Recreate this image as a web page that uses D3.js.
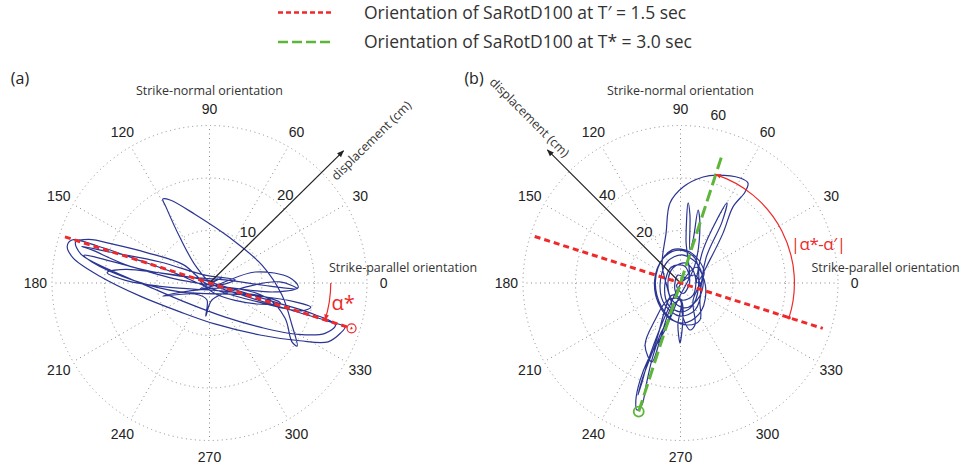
<!DOCTYPE html>
<html>
<head>
<meta charset="utf-8">
<script src="https://cdn.jsdelivr.net/npm/d3@7"></script>
<style>
	body { margin: 0; background: #fff; }
	svg { display: block; }
	.tick-label { font-family: "Liberation Sans", Arial, sans-serif; font-size: 14px; fill: #222; }
	.note { font-family: "Open Sans", sans-serif; font-size: 12.5px; fill: #333; }
	.legend-text { font-family: "Open Sans", sans-serif; font-size: 17.5px; fill: #333; }
	.panel-name { font-family: "Open Sans", sans-serif; font-size: 16px; fill: #222; }
	.alpha { font-family: "Open Sans", sans-serif; font-size: 20px; fill: #ee2a2a; }
</style>
</head>
<body>
<svg id="chart" width="964" height="469"></svg>
<script>
// angle ticks (deg) and ring values (cm)
const angleTicks = [0, 30, 60, 90, 120, 150, 180, 210, 240, 270, 300, 330];
const ringsA = [10, 20, 30];
const ringsB = [20, 40, 60];
const ringLabelsA = [10, 20];
const ringLabelsB = [20, 40];

// orientations (deg)
const alphaPrime = -17.7;   // SaRotD100 at T' = 1.5 sec
const alphaStar = 72;       // SaRotD100 at T* = 3.0 sec

// red / green dashed line half-lengths (cm), [positive side, negative side]
const redLineA = [28.4, 28.9];
const redLineB = [56.9, 58.3];
const greenLineB = [51.7, 51.5];

// displacement trace, panel (a), x/y in cm
const traceA = [
	[0, 0], [2.4, 1.0], [-1.8, -1.1], [1.2, -0.4], [8.7, 2.1], [15.3, 1.0], [16.9, -0.8], [12.5, -1.7],
	[4.9, -1.0], [-6.6, 0.8], [-14.2, 2.9], [-21.2, 4.8], [-23.9, 5.3], [-22.4, 4.0], [-14.2, 0.4],
	[-5.6, -1.7], [7.7, -2.3], [16.3, -3.6], [19.3, -4.6], [17.6, -5.3], [10.0, -3.8], [0.5, -1.1],
	[-6.6, 1.9], [-14.2, 4.6], [-21.2, 7.0], [-26.2, 8.2], [-27.1, 7.0], [-26.0, 4.8], [-20.9, 1.3],
	[-13.2, -2.5], [-5.6, -5.5], [1.0, -7.8], [9.6, -9.9], [17.2, -11.0], [22.6, -11.2], [25.0, -9.5],
	[25.8, -8.4], [23.0, -7.4], [15.3, -5.1], [6.8, -2.5], [0.5, -0.2], [-2.6, 3.2], [-5.6, 8.6],
	[-8.3, 14.5], [-8.9, 16.0], [-7.5, 15.8], [-2.8, 13.1], [3.9, 8.6], [10.0, 3.4], [13.8, -2.3],
	[15.7, -8.0], [16.7, -12.0], [15.7, -11.2], [14.4, -6.7], [11.1, -2.9], [4.3, -1.0], [-3.7, -1.5],
	[-8.9, -2.5], [-2.8, -2.1], [-0.5, -3.2], [-0.7, -6.3], [0.5, -3.2], [6.8, -0.8], [13.4, 0.2],
	[16.7, -1.1], [11.5, -0.6], [3.0, 0.6], [-5.6, 1.3], [-15.1, 3.2], [-22.4, 6.3], [-24.3, 7.0],
	[-19.0, 5.9], [-9.4, 4.0], [-0.9, 1.5], [4.9, 0.6], [0, -0.4], [-5.0, 3.5], [-12.0, 5.8],
	[-18.0, 7.3], [-23.0, 8.3], [-25.5, 7.8], [-24.5, 5.5], [-19.0, 2.5], [-12.0, -0.5], [-5.0, -3.5],
	[3.0, -6.5], [10.0, -8.5], [17.0, -9.8], [22.0, -9.6], [24.0, -8.0], [20.0, -6.0], [12.0, -3.5],
	[4.0, -1.0], [-3.0, 1.0], [-10.0, 2.0], [-16.0, 2.6], [-19.5, 2.0], [-16.0, 0.5], [-8.0, -0.8],
	[2.0, -1.5], [10.0, -2.5], [13.5, -3.8], [9.0, -4.0], [1.0, -2.0], [-1.8, 0.6], [1.0, 0.2]
];

// displacement trace, panel (b), x/y in cm
const traceB = [
	[0, 0], [5.5, 3.0], [7.8, -2.7], [5.5, -10.3], [-0.2, -12.6], [-5.9, -8.4], [-7.8, -0.8], [-5.1, 8.0],
	[0.6, 10.7], [6.7, 6.9], [8.6, -0.8], [6.3, -6.5], [1.7, -9.5], [-3.2, -6.5], [-4.8, 0], [-2.9, 5.7],
	[2.1, 7.6], [5.5, 3.0], [4.8, -4.6], [0.6, -6.5], [-2.1, -2.7], [-1.0, 3.0], [2.9, 1.9], [2.1, 16.4],
	[2.9, 30.5], [3.6, 25.9], [3.6, 12.6], [4.8, 16.4], [6.7, 27.8], [7.4, 22.1], [5.5, 6.9], [-1.0, -6.5],
	[-5.9, -17.9], [-12.4, -29.3], [-15.4, -37.0], [-17.0, -44.6], [-16.6, -48.4], [-14.7, -46.5],
	[-13.1, -38.9], [-10.9, -29.3], [-7.8, -19.8], [-3.2, -10.3], [-4.8, -2.7], [-7.0, 6.9], [-5.5, 19.0],
	[-4.0, 30.5], [1.0, 36.6], [8.6, 40.4], [13.9, 41.1], [22.7, 40.0], [25.7, 38.1], [24.6, 34.7],
	[20.0, 29.0], [16.2, 19.0], [11.2, 8.8], [6.3, 0], [8.6, 12.6], [17.7, 30.5], [15.8, 23.2], [9.7, 9.5],
	[7.4, -6.5], [7.4, -14.1], [2.9, -16.0], [-4.0, -13.3], [-9.0, -4.6], [-8.6, 5.7], [-3.2, 12.6],
	[3.6, 11.8], [9.0, 4.2], [4.8, -6.5], [5.5, -16.0], [3.6, -17.9], [1.0, -13.3], [-0.2, -6.5],
	[-4.0, -10.3], [-7.8, -21.7], [-10.9, -30.1], [-13.5, -23.6], [-9.7, -14.1], [-4.8, -6.5], [0.2, -6.5],
	[-0.2, -22.9], [-1.0, -16.0], [0.2, -6.5], [-3.2, -4.6], [-9.7, -23.6], [-14.7, -37.0], [-16.2, -42.7],
	[-15.0, -38.9], [-11.6, -27.4], [-4.0, -8.4], [-0.2, -0.8], [6.0, 6.0], [9.5, -1.0], [8.0, -10.5],
	[2.5, -15.0], [-3.5, -14.0], [-8.5, -7.5], [-9.8, 1.5], [-6.5, 9.5], [-0.5, 12.5], [5.5, 9.5],
	[7.0, 2.0], [5.0, -8.0], [0.5, -11.0], [-4.5, -8.5], [-6.0, -1.0], [-3.5, 6.0], [1.5, 6.5], [3.5, 0.5],
	[1.0, -4.0], [-1.5, -1.0], [0.5, 1.0]
];

const legendLabels = ['Orientation of SaRotD100 at T\u2032 = 1.5 sec', 'Orientation of SaRotD100 at T* = 3.0 sec'];

const RED = '#ee2a2a';
const GREEN = '#5db53a';
const BLUE = '#2b3592';

const Chart = {
	radius: 157.5,
	cy: 283,

	draw: function() {
		const self = this;
		let svg = d3.select('#chart');

		self.addDefs(svg);
		self.drawLegend(svg);

		self.drawPanel(svg, {
			name: '(a)', nameX: 20, cx: 209.5, rMax: 30, rings: ringsA, ringLabels: ringLabelsA,
			trace: traceA, arrowAngle: 44.6, textStart: 162, textOffset: 16.5, textReverse: false,
			parallelX: 119.5
		});
		self.drawPanel(svg, {
			name: '(b)', nameX: 474, cx: 680.5, rMax: 60, rings: ringsB, ringLabels: ringLabelsB,
			trace: traceB, arrowAngle: 135, textStart: 277, textOffset: 6, textReverse: true,
			parallelX: 131
		});
	},

	addDefs: function(svg) {
		let defs = svg.append('defs');

		defs.append('marker')
			.attr('id', 'arrow-black')
			.attr('viewBox', '0 0 10 10')
			.attr('refX', 9).attr('refY', 5)
			.attr('markerWidth', 7).attr('markerHeight', 7)
			.attr('markerUnits', 'userSpaceOnUse')
			.attr('orient', 'auto')
			.append('path')
			.attr('d', 'M0,1 L10,5 L0,9 Z')
			.style('fill', '#222');

		defs.append('marker')
			.attr('id', 'arrow-red')
			.attr('viewBox', '0 0 10 10')
			.attr('refX', 9).attr('refY', 5)
			.attr('markerWidth', 6).attr('markerHeight', 6)
			.attr('markerUnits', 'userSpaceOnUse')
			.attr('orient', 'auto-start-reverse')
			.append('path')
			.attr('d', 'M0,1 L10,5 L0,9 Z')
			.style('fill', RED);
	},

	drawLegend: function(svg) {
		let styles = [
			{ color: RED, dash: '5,3', y: 12.5 },
			{ color: GREEN, dash: '10,4', y: 42 }
		];

		styles.forEach(function(s, i) {
			svg.append('line')
				.attr('x1', 278).attr('x2', 332)
				.attr('y1', s.y).attr('y2', s.y)
				.style('stroke', s.color)
				.style('stroke-width', 2.5)
				.style('stroke-dasharray', s.dash);

			svg.append('text')
				.attr('class', 'legend-text')
				.attr('x', 364)
				.attr('y', s.y + 6)
				.text(legendLabels[i]);
		});
	},

	drawPanel: function(svg, p) {
		const self = this;
		let R = self.radius;
		let cy = self.cy;
		let g = svg.append('g');
		let x = d3.scaleLinear().domain([-p.rMax, p.rMax]).range([p.cx - R, p.cx + R]);
		let y = d3.scaleLinear().domain([-p.rMax, p.rMax]).range([cy + R, cy - R]);
		let r = d3.scaleLinear().domain([0, p.rMax]).range([0, R]);
		let rad = Math.PI / 180;
		let px = function(len, deg) { return x(len * Math.cos(deg * rad)); };
		let py = function(len, deg) { return y(len * Math.sin(deg * rad)); };

		// dotted grid
		g.selectAll('circle.ring')
			.data(p.rings)
			.enter().append('circle')
			.attr('class', 'ring')
			.attr('cx', p.cx).attr('cy', cy)
			.attr('r', d => r(d))
			.style('fill', 'none')
			.style('stroke', '#8a8a8a')
			.style('stroke-width', 1)
			.style('stroke-dasharray', '1,3.5');

		g.selectAll('line.spoke')
			.data(angleTicks)
			.enter().append('line')
			.attr('class', 'spoke')
			.attr('x1', p.cx).attr('y1', cy)
			.attr('x2', d => px(p.rMax, d))
			.attr('y2', d => py(p.rMax, d))
			.style('stroke', '#8a8a8a')
			.style('stroke-width', 1)
			.style('stroke-dasharray', '1,3.5');

		g.selectAll('text.tick-label')
			.data(angleTicks)
			.enter().append('text')
			.attr('class', 'tick-label')
			.attr('x', d => px(p.rMax * 1.105, d))
			.attr('y', d => py(p.rMax * 1.105, d))
			.attr('text-anchor', 'middle')
			.attr('dominant-baseline', 'central')
			.text(d => d);

		if (p.name == '(b)')
			g.append('text')
				.attr('class', 'tick-label')
				.attr('x', px(p.rMax * 1.092, 77.3))
				.attr('y', py(p.rMax * 1.092, 77.3))
				.attr('text-anchor', 'middle')
				.attr('dominant-baseline', 'central')
				.text('60');

		// titles
		g.append('text')
			.attr('class', 'panel-name')
			.attr('x', p.nameX).attr('y', 84)
			.attr('text-anchor', 'middle')
			.text(p.name);

		g.append('text')
			.attr('class', 'note')
			.attr('x', p.cx).attr('y', cy - 188)
			.attr('text-anchor', 'middle')
			.text('Strike-normal orientation');

		g.append('text')
			.attr('class', 'note')
			.attr('x', p.cx + p.parallelX).attr('y', cy - 11.5)
			.text('Strike-parallel orientation');

		// trajectory
		let line = d3.line()
			.x(d => x(d[0]))
			.y(d => y(d[1]))
			.curve(d3.curveCatmullRom.alpha(0.5));

		g.append('path')
			.datum(p.trace)
			.attr('d', line)
			.style('fill', 'none')
			.style('stroke', BLUE)
			.style('stroke-width', 1.2);

		// displacement arrow
		let tipLen = p.rMax * 1.195;
		g.append('line')
			.attr('x1', p.cx).attr('y1', cy)
			.attr('x2', px(tipLen, p.arrowAngle))
			.attr('y2', py(tipLen, p.arrowAngle))
			.attr('marker-end', 'url(#arrow-black)')
			.style('stroke', '#222')
			.style('stroke-width', 1.2);

		let ux = Math.cos(p.arrowAngle * rad);
		let uy = -Math.sin(p.arrowAngle * rad);
		let tx = p.cx + ux * p.textStart + (-uy) * p.textOffset;
		let ty = cy + uy * p.textStart + ux * p.textOffset;
		let rot = p.textReverse ? 180 - p.arrowAngle : -p.arrowAngle;
		g.append('text')
			.attr('class', 'note')
			.attr('transform', 'translate(' + tx + ',' + ty + ') rotate(' + rot + ')')
			.text('displacement (cm)');

		g.selectAll('text.ring-label')
			.data(p.ringLabels)
			.enter().append('text')
			.attr('class', 'tick-label ring-label')
			.attr('x', d => px(d, p.arrowAngle) + 1)
			.attr('y', d => py(d, p.arrowAngle) - 9)
			.attr('text-anchor', 'middle')
			.style('font-size', '15px')
			.text(d => d);

		// orientation lines
		self.dashedLine(g, px, py, p.name == '(a)' ? redLineA : redLineB, alphaPrime, RED, '6,4');

		if (p.name == '(a)') {
			let end = [px(redLineA[0], alphaPrime), py(redLineA[0], alphaPrime)];
			g.append('circle')
				.attr('cx', end[0]).attr('cy', end[1]).attr('r', 4.5)
				.style('fill', 'none').style('stroke', RED).style('stroke-width', 1.2);
			g.append('circle')
				.attr('cx', end[0]).attr('cy', end[1]).attr('r', 1)
				.style('fill', RED);

			let arc = d3.path();
			arc.arc(p.cx, cy, r(23.1), 0, -alphaPrime * rad, false);
			g.append('path')
				.attr('d', arc.toString())
				.attr('marker-end', 'url(#arrow-red)')
				.style('fill', 'none').style('stroke', RED).style('stroke-width', 1.2);

			g.append('text')
				.attr('class', 'alpha')
				.attr('x', px(25.7, -8.1)).attr('y', py(25.7, -8.1))
				.attr('text-anchor', 'middle')
				.attr('dominant-baseline', 'central')
				.text('\u03b1*');
		} else {
			self.dashedLine(g, px, py, greenLineB, alphaStar, GREEN, '12,5');

			let end = [px(greenLineB[1], alphaStar + 180), py(greenLineB[1], alphaStar + 180)];
			g.append('circle')
				.attr('cx', end[0]).attr('cy', end[1]).attr('r', 5)
				.style('fill', 'none').style('stroke', GREEN).style('stroke-width', 1.8);

			let arc = d3.path();
			arc.arc(p.cx, cy, r(43.4), -alphaStar * rad, -alphaPrime * rad, false);
			g.append('path')
				.attr('d', arc.toString())
				.attr('marker-start', 'url(#arrow-red)')
				.style('fill', 'none').style('stroke', RED).style('stroke-width', 1.2);

			g.append('circle')
				.attr('cx', px(43.4, alphaPrime)).attr('cy', py(43.4, alphaPrime)).attr('r', 1.8)
				.style('fill', RED);

			g.append('text')
				.attr('class', 'alpha')
				.attr('x', px(54.6, 16.2)).attr('y', py(54.6, 16.2))
				.attr('text-anchor', 'middle')
				.attr('dominant-baseline', 'central')
				.style('font-size', '17px')
				.style('letter-spacing', '-0.5px')
				.text('|\u03b1*-\u03b1\u2032|');
		}
	},

	dashedLine: function(g, px, py, lengths, deg, color, dash) {
		g.append('line')
			.attr('x1', px(lengths[1], deg + 180))
			.attr('y1', py(lengths[1], deg + 180))
			.attr('x2', px(lengths[0], deg))
			.attr('y2', py(lengths[0], deg))
			.style('stroke', color)
			.style('stroke-width', 3)
			.style('stroke-dasharray', dash);
	}
};

Chart.draw();
</script>
</body>
</html>
